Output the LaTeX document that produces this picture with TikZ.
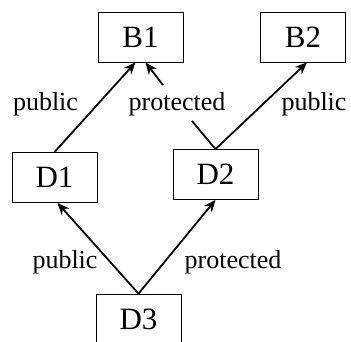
\documentclass[tikz,border=0pt]{standalone}
\usepackage{fontspec}
\setmainfont{Liberation Serif}
\usetikzlibrary{arrows.meta}

\begin{document}
\begin{tikzpicture}[x=1pt,y=-1pt]
\tikzstyle{every node}+=[inner sep=0pt]
\tikzstyle{cls}=[draw=black, line width=0.8pt, minimum width=85pt, minimum height=50pt, font=\fontsize{31}{35}\selectfont]
\tikzstyle{lbl}=[font=\fontsize{26}{30}\selectfont]
\tikzstyle{inh}=[black, line width=1.8pt, -{Stealth[length=12pt,width=10pt]}]
\useasboundingbox (0,0) rectangle (351,342);
\node [cls] (B1) at (140.5,37) {B1};
\node [cls] (B2) at (303,37) {B2};
\node [cls] (D1) at (54.5,177.5) {D1};
\node [cls] (D2) at (215.5,174.5) {D2};
\node [cls] (D3) at (138.5,319) {D3};
\coordinate (p1) at (192,121);
\coordinate (p2) at (163,85);
\draw [inh] (D1.north) -- ([xshift=-5pt]B1.south);
\draw (D2.north) -- (p1) [black, line width=1.8pt];
\draw [inh] (p2) -- ([xshift=5pt]B1.south);
\draw [inh] (D2.north) -- ([xshift=4pt]B2.south);
\draw [inh] (D3.north) -- ([xshift=3pt]D1.south);
\draw [inh] (D3.north) -- (D2.south);
\node [lbl] (l1) at (45.5,104) {public};
\node [lbl] (l2) at (177,104) {protected};
\node [lbl] (l3) at (314,104) {public};
\node [lbl] (l4) at (65,262) {public};
\node [lbl] (l5) at (233,262) {protected};
\end{tikzpicture}
\end{document}
